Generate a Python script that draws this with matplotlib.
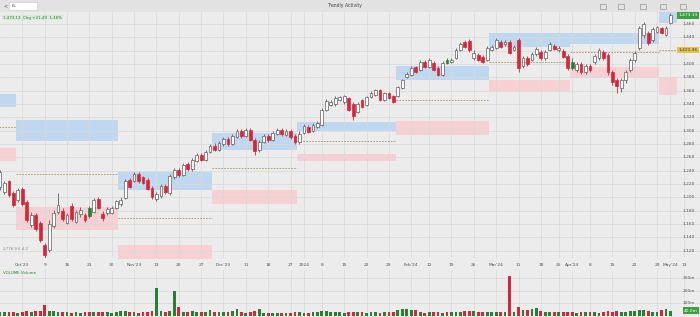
import matplotlib.pyplot as plt

# daily candles (price units)
opens = [1216, 1208, 1225, 1207, 1196, 1213, 1193, 1159, 1174, 1162,
         1129, 1121, 1157, 1178, 1180, 1162, 1187, 1163, 1175, 1174,
         1184, 1178, 1198, 1175, 1177, 1177, 1184, 1190, 1199, 1226,
         1225, 1235, 1231, 1226, 1214, 1198, 1202, 1217, 1207, 1231,
         1241, 1234, 1250, 1243, 1255, 1264, 1256, 1268, 1277, 1271,
         1280, 1288, 1280, 1291, 1300, 1292, 1301, 1286, 1271, 1283,
         1292, 1286, 1295, 1301, 1294, 1300, 1292, 1283, 1297, 1306,
         1300, 1306, 1309, 1331, 1339, 1340, 1346, 1343, 1349, 1340,
         1328, 1346, 1339, 1351, 1354, 1361, 1346, 1357, 1352, 1352,
         1364, 1381, 1384, 1396, 1391, 1403, 1396, 1402, 1394, 1384,
         1406, 1403, 1409, 1421, 1433, 1435, 1409, 1414, 1411, 1406,
         1421, 1424, 1433, 1430, 1433, 1421, 1436, 1397, 1409, 1406,
         1415, 1418, 1409, 1421, 1427, 1421, 1420, 1412, 1403, 1391,
         1400, 1388, 1397, 1403, 1409, 1418, 1414, 1388, 1376, 1364,
         1376, 1391, 1406, 1424, 1444, 1447, 1436, 1448, 1454, 1444,
         1462]
highs = [1241, 1225, 1226, 1210, 1214, 1216, 1196, 1178, 1177, 1165,
         1132, 1166, 1181, 1207, 1184, 1177, 1192, 1181, 1186, 1177,
         1187, 1199, 1201, 1180, 1186, 1187, 1196, 1201, 1228, 1229,
         1238, 1238, 1232, 1229, 1217, 1208, 1220, 1220, 1235, 1244,
         1244, 1252, 1253, 1259, 1267, 1267, 1271, 1280, 1282, 1285,
         1291, 1291, 1295, 1303, 1303, 1304, 1304, 1289, 1286, 1295,
         1295, 1300, 1304, 1304, 1303, 1303, 1295, 1300, 1310, 1309,
         1312, 1315, 1334, 1348, 1346, 1352, 1352, 1354, 1351, 1343,
         1343, 1348, 1352, 1360, 1363, 1363, 1358, 1358, 1354, 1367,
         1378, 1388, 1397, 1397, 1406, 1406, 1409, 1405, 1397, 1405,
         1409, 1409, 1424, 1433, 1436, 1438, 1421, 1417, 1414, 1427,
         1429, 1439, 1436, 1436, 1436, 1429, 1439, 1412, 1412, 1418,
         1426, 1421, 1421, 1433, 1430, 1427, 1423, 1415, 1409, 1403,
         1403, 1400, 1400, 1415, 1424, 1421, 1417, 1391, 1379, 1379,
         1391, 1409, 1420, 1457, 1463, 1450, 1456, 1457, 1456, 1457,
         1477]
lows = [1211, 1205, 1201, 1186, 1193, 1187, 1163, 1156, 1150, 1133,
        1109, 1118, 1154, 1175, 1165, 1160, 1165, 1162, 1171, 1163,
        1169, 1177, 1183, 1165, 1174, 1175, 1183, 1187, 1198, 1214,
        1223, 1222, 1220, 1211, 1198, 1195, 1199, 1205, 1204, 1228,
        1231, 1232, 1240, 1240, 1253, 1255, 1255, 1267, 1270, 1270,
        1277, 1277, 1279, 1289, 1289, 1291, 1285, 1264, 1268, 1282,
        1283, 1285, 1294, 1292, 1292, 1288, 1280, 1280, 1295, 1297,
        1298, 1304, 1307, 1330, 1337, 1337, 1345, 1340, 1330, 1316,
        1327, 1334, 1337, 1349, 1352, 1345, 1345, 1348, 1342, 1351,
        1363, 1379, 1382, 1387, 1390, 1394, 1394, 1390, 1382, 1382,
        1400, 1402, 1408, 1420, 1424, 1418, 1406, 1405, 1402, 1405,
        1420, 1423, 1424, 1427, 1415, 1420, 1388, 1394, 1397, 1405,
        1412, 1406, 1406, 1420, 1421, 1418, 1409, 1391, 1391, 1388,
        1385, 1385, 1388, 1400, 1406, 1406, 1384, 1369, 1357, 1358,
        1372, 1388, 1403, 1421, 1439, 1429, 1433, 1447, 1445, 1442,
        1460]
closes = [1238, 1222, 1204, 1189, 1211, 1190, 1166, 1174, 1153, 1136,
          1114, 1160, 1177, 1189, 1168, 1174, 1168, 1178, 1181, 1166,
          1172, 1196, 1184, 1169, 1183, 1184, 1195, 1196, 1225, 1216,
          1235, 1225, 1222, 1213, 1201, 1205, 1217, 1208, 1232, 1241,
          1234, 1249, 1243, 1256, 1264, 1256, 1268, 1277, 1271, 1282,
          1288, 1280, 1292, 1300, 1292, 1301, 1286, 1270, 1283, 1292,
          1286, 1297, 1301, 1295, 1300, 1291, 1283, 1295, 1307, 1298,
          1309, 1312, 1331, 1345, 1343, 1349, 1351, 1352, 1331, 1322,
          1340, 1336, 1351, 1357, 1361, 1346, 1357, 1349, 1343, 1366,
          1376, 1385, 1394, 1388, 1403, 1396, 1406, 1391, 1384, 1402,
          1402, 1406, 1421, 1430, 1426, 1421, 1417, 1406, 1403, 1424,
          1426, 1436, 1426, 1433, 1417, 1426, 1394, 1409, 1400, 1415,
          1423, 1409, 1418, 1430, 1423, 1424, 1411, 1394, 1394, 1400,
          1388, 1397, 1391, 1412, 1421, 1409, 1388, 1373, 1367, 1376,
          1388, 1406, 1417, 1454, 1460, 1432, 1453, 1456, 1447, 1454,
          1473]
volumes = [30, 26, 32, 28, 24, 30, 34, 26, 33, 36,
           85, 40, 34, 30, 28, 26, 22, 30, 24, 28,
           26, 32, 27, 25, 30, 22, 28, 38, 34, 30,
           26, 24, 28, 30, 34, 220, 40, 32, 36, 195,
           68, 30, 26, 34, 28, 32, 30, 47, 30, 28,
           26, 30, 33, 55, 28, 24, 30, 38, 50, 24,
           22, 24, 22, 20, 18, 22, 26, 28, 24, 22,
           26, 30, 34, 38, 30, 28, 26, 24, 28, 32,
           30, 26, 24, 28, 26, 22, 30, 26, 28, 48,
           52, 50, 46, 44, 26, 24, 28, 30, 26, 24,
           28, 26, 30, 32, 36, 40, 34, 30, 28, 32,
           26, 30, 28, 26, 320, 32, 70, 48, 46, 50,
           62, 34, 30, 28, 32, 26, 30, 28, 26, 24,
           30, 28, 32, 26, 24, 30, 34, 32, 36, 28,
           30, 34, 38, 48, 44, 36, 30, 26, 46, 50,
           40]

# monthly zones: first / last candle, upper band, mid level, lower band
zone_start = [0, 4, 27, 48, 67, 89, 110, 128, 148]
zone_end = [3, 26, 47, 66, 88, 109, 127, 147, 151]
upper_top = [1355, 1316, 1238, 1296, 1313, 1397, 1446, 1446, 1478]
upper_bot = [1336, 1284, 1211, 1271, 1300, 1376, 1426, 1430, 1462]
mid_level = [1306, 1235, 1169, 1244, 1284, 1346, 1403, 1418, 1421]
lower_top = [1274, 1186, 1128, 1211, 1265, 1314, 1376, 1396, 1380]
lower_bot = [1254, 1151, 1102, 1190, 1254, 1294, 1360, 1379, 1354]

tick_pos = [5, 10, 15, 20, 25, 30, 35, 40, 45, 50, 55, 60, 65, 68, 72,
            77, 82, 87, 92, 96, 101, 106, 111, 116, 121, 125, 128, 132,
            137, 142, 147, 150, 153]
tick_labels = ["Oct'23", "9", "16", "23", "30", "Nov'23", "13", "20", "27",
               "Dec'23", "11", "18", "27", "2024", "8", "15", "22", "29",
               "Feb'24", "12", "19", "26", "Mar'24", "11", "18", "25",
               "Apr'24", "8", "15", "22", "29", "May'24", "13"]
price_ticks = list(range(1120, 1461, 20))
vol_ticks = [100, 200, 300]

W, H = 700, 317
BG = '#ececec'
GRID = '#d9d9d9'
RED = '#d3283a'
GREEN = '#2e7d36'

fig = plt.figure(figsize=(7, 3.17), dpi=100)
fig.patch.set_facecolor(BG)


def px_axes(x0, y0, x1, y1):
    a = fig.add_axes([x0 / W, 1 - y1 / H, (x1 - x0) / W, (y1 - y0) / H])
    a.set_facecolor(BG)
    for s in a.spines.values():
        s.set_visible(False)
    return a


# toolbar
top = px_axes(0, 0, 700, 12)
top.set_facecolor('#e2e2e2')
top.set_xlim(0, W)
top.set_ylim(12, 0)
top.set_xticks([])
top.set_yticks([])
top.add_patch(plt.Rectangle((9, 2), 28, 8, fc='white', ec='#c8c8c8', lw=0.4))
top.text(4, 6, '<', fontsize=3.5, color='#555', va='center')
top.text(12, 6, 'LL', fontsize=3.2, color='#333', va='center')
top.text(345, 6, 'Trendly Activity', fontsize=3.3, color='#444', ha='center', va='center')
for xx in [600, 618, 640, 660, 680]:
    top.add_patch(plt.Rectangle((xx, 3.5), 6, 5, fc='none', ec='#888', lw=0.4))
top.axhline(11.8, color='#c9c9c9', lw=0.6)

ax = px_axes(0, 12, 700, 258)
vax = px_axes(0, 270, 700, 317)
n = len(closes)
xmax = W / 4.47

# zones
for s, e, ut, ub, m, lt, lb in zip(zone_start, zone_end, upper_top, upper_bot,
                                   mid_level, lower_top, lower_bot):
    x0, x1 = s - 0.5, e + 0.5
    ax.fill_between([x0, x1], ub, ut, color='#c0d7f0', lw=0, zorder=1)
    ax.fill_between([x0, x1], lb, lt, color='#f6d0d3', lw=0, zorder=1)
    ax.hlines(m, x0, x1, colors='#a4966a', linestyles=(0, (2, 1.5)), lw=0.6, zorder=2)

# candles
vol_colors = []
for i in range(n):
    o, h, l, c = opens[i], highs[i], lows[i], closes[i]
    if c >= o:
        face, edge = 'white', '#5c5c5c'
    elif i > 0 and c >= closes[i - 1]:
        face = edge = GREEN
    else:
        face = edge = RED
    vol_colors.append(GREEN if c >= o else RED)
    ax.vlines(i, l, h, color=edge, lw=0.6, zorder=3)
    ax.bar(i, max(abs(c - o), 0.8), bottom=min(o, c), width=0.62,
           color=face, edgecolor=edge, lw=0.5, zorder=4)

ax.set_xlim(0, xmax)
ax.set_ylim(1109, 1478)
ax.set_yticks(price_ticks)
ax.set_xticks(tick_pos, tick_labels)
ax.grid(True, color=GRID, lw=0.5, zorder=0)
ax.tick_params(axis='y', left=False, right=False, labelleft=False)
ax.tick_params(axis='x', length=0, labelsize=3.2, colors='#555', pad=3.5)
ytr = ax.get_yaxis_transform()
badge_levels = [closes[-1], mid_level[-1]]
for p in price_ticks:
    if min(abs(p - b) for b in badge_levels) < 8:
        continue
    ax.text(0.993, p, f'{p:,}', transform=ytr, fontsize=3.2, color='#555',
            ha='right', va='center', zorder=6)

# price badges
ax.text(0.997, closes[-1], f'{closes[-1]:,}.13', transform=ytr, fontsize=3.2,
        color='white', ha='right', va='center', zorder=7,
        bbox=dict(boxstyle='square,pad=0.3', fc='#3f9e3f', ec='none'))
ax.text(0.997, mid_level[-1], f'{mid_level[-1]:,}.36', transform=ytr, fontsize=3.2,
        color='#333', ha='right', va='center', zorder=7,
        bbox=dict(boxstyle='square,pad=0.3', fc='#e3c24e', ec='none'))
ax.text(0.004, 0.985, '1,473.13  Chg +21.49  1.48%', transform=ax.transAxes,
        fontsize=2.9, color='#2e7d36', va='top', zorder=7,
        bbox=dict(boxstyle='square,pad=0.2', fc='#dbead8', ec='none'))
ax.text(0.004, 0.03, '2,776.9.6.4.2', transform=ax.transAxes,
        fontsize=2.8, color='#888', va='bottom', zorder=7)

# volume
vax.bar(range(n), volumes, width=0.62, color=vol_colors, lw=0, zorder=3)
vax.set_xlim(0, xmax)
vax.set_ylim(-12, 364)
vax.set_xticks(tick_pos)
vax.set_yticks(vol_ticks)
vax.grid(True, color=GRID, lw=0.5, zorder=0)
vax.tick_params(left=False, bottom=False, labelleft=False, labelbottom=False)
vtr = vax.get_yaxis_transform()
for v in vol_ticks:
    vax.text(0.993, v, f'{v}m', transform=vtr, fontsize=3.2, color='#555',
             ha='right', va='center')
vax.text(0.997, volumes[-1], f'{volumes[-1]:.1f}m', transform=vtr, fontsize=3.2,
         color='white', ha='right', va='center', zorder=7,
         bbox=dict(boxstyle='square,pad=0.3', fc='#3f9e3f', ec='none'))
vax.text(0.004, 0.97, 'VOLUME Volume', transform=vax.transAxes, fontsize=2.9,
         color='#2e7d36', va='top')

fig.savefig('out.png', dpi=100, facecolor=fig.get_facecolor())
